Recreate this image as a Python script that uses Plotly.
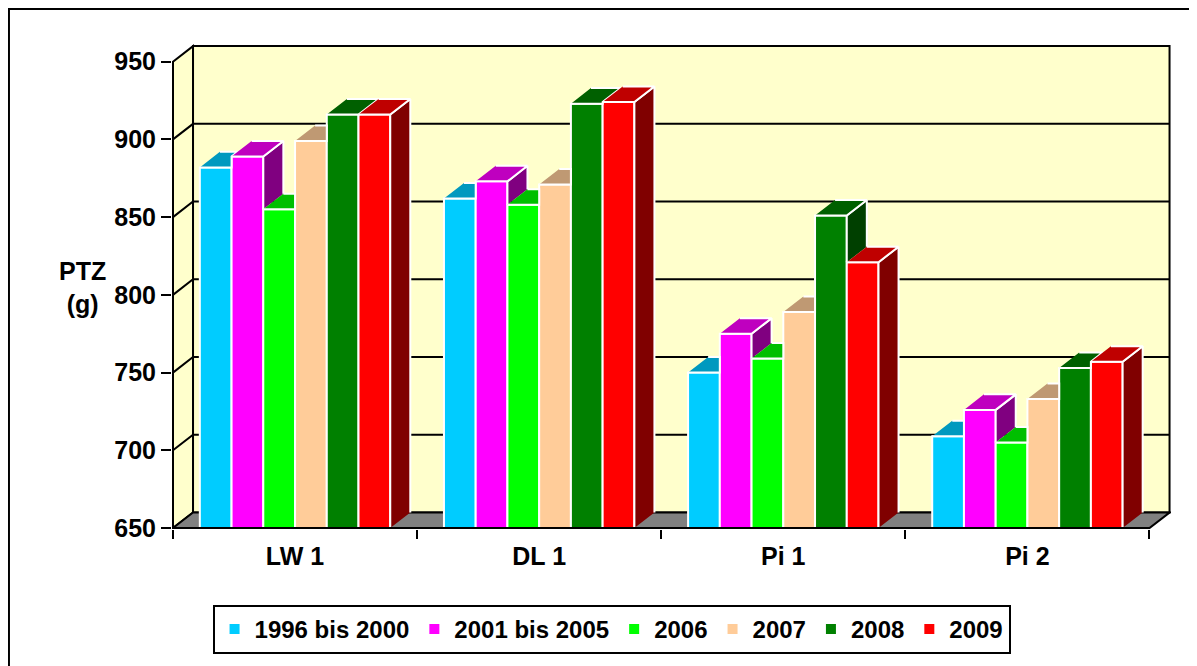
import plotly.graph_objects as go

# ---------------- data ----------------
categories = ["LW 1", "DL 1", "Pi 1", "Pi 2"]
series_names = ["1996 bis 2000", "2001 bis 2005", "2006", "2007", "2008", "2009"]
v_1996_2000 = [882, 862, 750, 709]
v_2001_2005 = [889, 873, 775, 726]
v_2006 = [855, 858, 759, 705]
v_2007 = [899, 871, 789, 733]
v_2008 = [916, 923, 851, 753]
v_2009 = [916, 924, 821, 757]
y_ticks = [650, 700, 750, 800, 850, 900, 950]

series_values = [v_1996_2000, v_2001_2005, v_2006, v_2007, v_2008, v_2009]
colors = ["#00CCFF", "#FF00FF", "#00FF00", "#FFCC99", "#008000", "#FF0000"]

# ---------------- geometry of the pseudo-3D box ----------------
BARGAP = 0.22
Y0, Y1 = y_ticks[0], y_ticks[-1]
DX = 20 / 243.5          # depth offset in category units
DZ = 10                  # depth offset in value units
XL, XR = -0.5, len(categories) - 0.5
FONT = "Liberation Sans, Arial, sans-serif"


def shade(hexcol, f):
    h = hexcol.lstrip("#")
    r, g, b = (int(h[i:i + 2], 16) for i in (0, 2, 4))
    return "rgb(%d,%d,%d)" % (round(r * f), round(g * f), round(b * f))


fig = go.Figure()

# front faces: real bar traces
for name, vals, col in zip(series_names, series_values, colors):
    fig.add_trace(go.Bar(
        x=list(range(len(categories))), y=vals, name=name,
        marker=dict(color=col, line=dict(color="white", width=2)),
        hoverinfo="skip",
    ))

# top and side faces, computed from the same values
n = len(series_values)
bw = (1 - BARGAP) / n
for j, (vals, col) in enumerate(zip(series_values, colors)):
    tx, ty, sx, sy = [], [], [], []
    for c, v in enumerate(vals):
        xl = c - (1 - BARGAP) / 2 + j * bw
        xr = xl + bw
        nxt = series_values[j + 1][c] if j < n - 1 else None
        # side face (visible part only)
        lo = Y0 if nxt is None else nxt
        if v > lo:
            sx += [xr, xr, xr + DX, xr + DX, None]
            sy += [lo, v, v + DZ, lo + DZ, None]
        # top face (visible part only)
        if nxt is None or nxt <= v:
            tx += [xl, xr, xr + DX, xl + DX, None]
            ty += [v, v, v + DZ, v + DZ, None]
        elif nxt >= v + DZ:
            tx += [xl, xr, xr, xl + DX, None]
            ty += [v, v, v + DZ, v + DZ, None]
        else:
            t = (v + DZ - nxt) / DZ
            tx += [xl, xr, xr, xr + DX * t, xl + DX, None]
            ty += [v, v, nxt, v + DZ, v + DZ, None]
    fig.add_trace(go.Scatter(x=sx, y=sy, mode="lines", fill="toself",
                             fillcolor=shade(col, 0.5),
                             line=dict(color="white", width=2),
                             showlegend=False, hoverinfo="skip"))
    fig.add_trace(go.Scatter(x=tx, y=ty, mode="lines", fill="toself",
                             fillcolor=shade(col, 0.75),
                             line=dict(color="white", width=2),
                             showlegend=False, hoverinfo="skip"))

# ---------------- walls, floor, grid ----------------
shapes = []
wall = "#FFFFCC"
blk = dict(color="black", width=2)
# left wall
shapes.append(dict(type="path", xref="x", yref="y", layer="below",
                   path=f"M{XL},{Y0} L{XL + DX},{Y0 + DZ} L{XL + DX},{Y1 + DZ} L{XL},{Y1} Z",
                   fillcolor=wall, line=blk))
# back wall
shapes.append(dict(type="rect", xref="x", yref="y", layer="below",
                   x0=XL + DX, x1=XR + DX, y0=Y0 + DZ, y1=Y1 + DZ,
                   fillcolor=wall, line=blk))
# floor
shapes.append(dict(type="path", xref="x", yref="y", layer="below",
                   path=f"M{XL},{Y0} L{XR},{Y0} L{XR + DX},{Y0 + DZ} L{XL + DX},{Y0 + DZ} Z",
                   fillcolor="#808080", line=blk))
# gridlines on left and back walls
for v in y_ticks[1:-1]:
    shapes.append(dict(type="path", xref="x", yref="y", layer="below",
                       path=f"M{XL},{v} L{XL + DX},{v + DZ} L{XR + DX},{v + DZ}",
                       line=blk))
# front axis lines
shapes.append(dict(type="line", xref="x", yref="y", layer="above",
                   x0=XL, x1=XL, y0=Y0, y1=Y1, line=blk))
shapes.append(dict(type="line", xref="x", yref="y", layer="above",
                   x0=XL, x1=XR, y0=Y0, y1=Y0, line=blk))
# chart-area frame (right/bottom edges lie outside the picture)
shapes.append(dict(type="rect", xref="paper", yref="paper", layer="below",
                   x0=-0.1632, x1=1.2, y0=-0.4, y1=1.0700,
                   line=dict(color="black", width=2), fillcolor="rgba(0,0,0,0)"))

fig.update_layout(
    width=1189, height=658,
    margin=dict(l=164, r=26, t=35, b=137),
    paper_bgcolor="white", plot_bgcolor="white",
    barmode="group", bargap=BARGAP, bargroupgap=0,
    shapes=shapes,
    font=dict(family=FONT, size=25, color="black", weight="bold"),
    xaxis=dict(
        range=[XL - 0.004, XR + DX + 0.006],
        tickmode="array", tickvals=list(range(len(categories))), ticktext=categories,
        ticks="outside", ticklen=5, tickcolor="rgba(0,0,0,0)",
        showgrid=False, zeroline=False, showline=False,
        minor=dict(tickmode="array", tickvals=[XL + k for k in range(len(categories) + 1)],
                   ticks="outside", ticklen=9, tickwidth=2, tickcolor="black", showgrid=False),
        tickfont=dict(family=FONT, size=25, color="black", weight="bold"),
        fixedrange=True,
    ),
    yaxis=dict(
        range=[Y0 - 0.6, Y1 + DZ + 2],
        tickmode="array", tickvals=y_ticks, ticktext=[str(t) for t in y_ticks],
        ticks="outside", ticklen=10, tickwidth=2, tickcolor="black",
        showgrid=False, zeroline=False, showline=False,
        tickfont=dict(family=FONT, size=25, color="black", weight="bold"),
        fixedrange=True,
    ),
    legend=dict(
        orientation="h", x=0.44, xanchor="center", y=-0.156, yanchor="top",
        bordercolor="black", borderwidth=2, bgcolor="white",
        font=dict(family=FONT, size=24, color="black", weight="bold"),
        traceorder="normal",
    ),
    annotations=[dict(
        text="PTZ<br>(g)", xref="paper", yref="paper", x=-0.09, y=0.496,
        showarrow=False, xanchor="center", yanchor="middle",
        font=dict(family=FONT, size=25, color="black", weight="bold"),
    )],
    showlegend=True,
)

fig.write_html("out.html")
